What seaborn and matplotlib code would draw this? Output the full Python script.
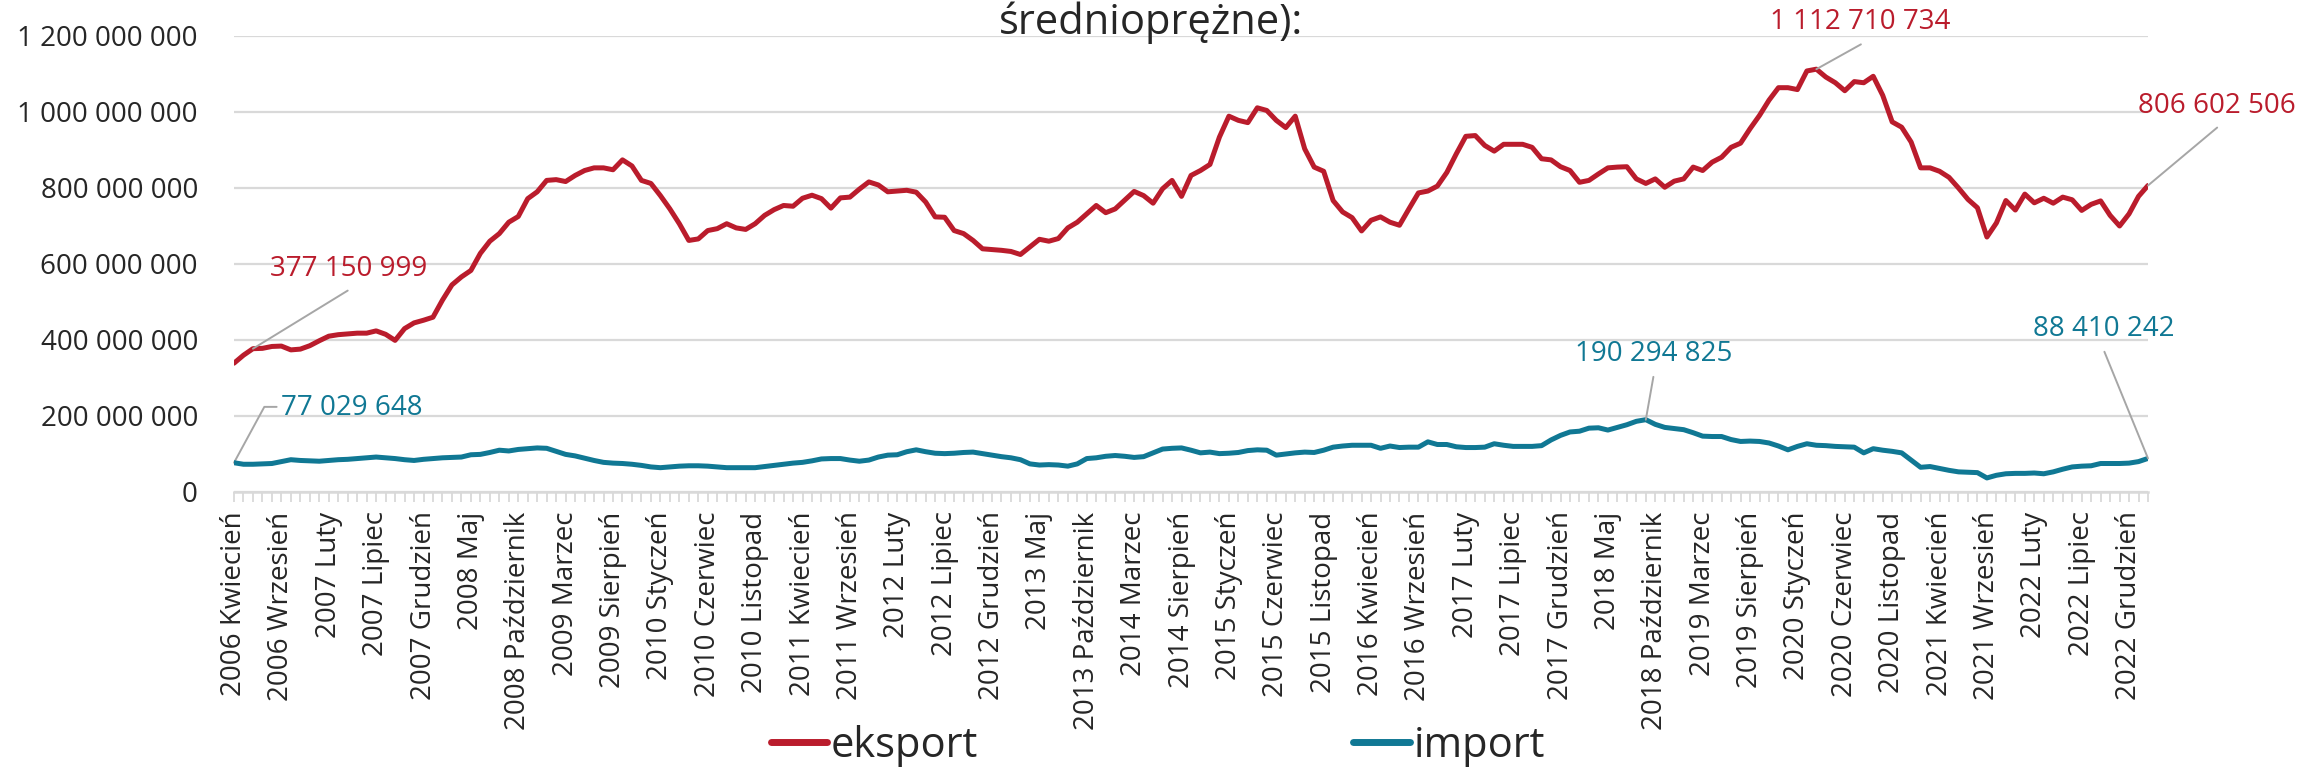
import matplotlib
matplotlib.use("Agg")
import matplotlib.pyplot as plt
import numpy as np
import pandas as pd
import seaborn as sns

# Monthly series, April 2006 .. February 2023 (values in millions)
START_YEAR, START_MONTH = 2006, 4
MONTHS_PL = ["Styczeń", "Luty", "Marzec", "Kwiecień", "Maj", "Czerwiec", "Lipiec",
             "Sierpień", "Wrzesień", "Październik", "Listopad", "Grudzień"]

eksport_mln = [
    339, 360, 377.150999, 378, 383, 384, 374, 376, 385, 398,
    410, 414, 416, 418, 418, 424, 415, 399, 430, 445,
    452, 460, 505, 545, 566, 583, 628, 660, 680, 710,
    725, 772, 790, 820, 822, 817, 833, 846, 853, 853,
    848, 874, 858, 820, 812, 780, 745, 706, 662, 666,
    688, 693, 706, 695, 691, 706, 728, 743, 754, 752,
    773, 781, 772, 747, 774, 776, 797, 816, 808, 790,
    792, 794, 789, 763, 724, 723, 688, 680, 662, 640,
    638, 636, 633, 625, 645, 665, 660, 667, 695, 710,
    732, 754, 735, 745, 768, 791, 780, 760, 798, 820,
    778, 833, 846, 862, 934, 989, 978, 972, 1011, 1004,
    978, 959, 989, 903, 855, 844, 767, 737, 722, 687,
    715, 724, 710, 702, 745, 787, 792, 805, 841, 890,
    936, 938, 912, 897, 915, 915, 915, 907, 877, 874,
    856, 846, 815, 820, 837, 853, 855, 856, 824, 812,
    824, 802, 818, 824, 855, 846, 868, 881, 907, 918,
    956, 991, 1031, 1064, 1064, 1059, 1108, 1112.710734, 1092, 1077,
    1056, 1080, 1077, 1094, 1044, 974, 960, 921, 853, 853,
    844, 828, 800, 770, 748, 671, 708, 767, 742, 784,
    761, 773, 760, 776, 769, 741, 757, 766, 728, 700,
    732, 778, 806.602506,
]

import_mln = [
    77.029648, 73, 73, 74, 75, 80, 85, 83, 82, 81,
    83, 85, 86, 88, 90, 92, 90, 88, 85, 83,
    86, 88, 90, 91, 92, 98, 99, 104, 110, 108,
    112, 114, 116, 115, 107, 99, 95, 89, 83, 78,
    76, 75, 73, 70, 66, 64, 66, 68, 69, 69,
    68, 66, 64, 64, 64, 64, 67, 70, 73, 76,
    78, 82, 87, 88, 88, 84, 81, 84, 92, 97,
    98, 106, 111, 106, 102, 101, 102, 104, 105, 101,
    97, 93, 90, 85, 74, 71, 72, 71, 68, 74,
    88, 90, 94, 96, 94, 91, 93, 103, 113, 115,
    116, 110, 103, 105, 101, 102, 104, 109, 111, 110,
    97, 100, 103, 105, 104, 110, 118, 121, 123, 123,
    123, 115, 121, 117, 118, 118, 132, 125, 125, 119,
    117, 117, 118, 127, 123, 120, 120, 120, 122, 137,
    149, 158, 160, 168, 169, 163, 170, 177, 186, 190.294825,
    178, 170, 167, 164, 156, 147, 146, 146, 138, 133,
    134, 133, 129, 121, 111, 120, 127, 123, 122, 120,
    119, 118, 103, 114, 110, 107, 103, 84, 65, 67,
    62, 57, 53, 52, 51, 37, 44, 48, 49, 49,
    50, 48, 53, 60, 66, 68, 69, 75, 75, 75,
    76, 80, 88.410242,
]

TITLE_TAIL = "średnioprężne):"
SERIES = ["eksport", "import"]
COLORS = {"eksport": "#BA1C2C", "import": "#107894"}

month_labels = []
y, m = START_YEAR, START_MONTH
for _ in range(len(eksport_mln)):
    month_labels.append(f"{y} {MONTHS_PL[m - 1]}")
    m += 1
    if m > 12:
        m, y = 1, y + 1

df = pd.DataFrame({
    "idx": np.arange(len(eksport_mln)),
    "eksport": np.array(eksport_mln) * 1e6,
    "import": np.array(import_mln) * 1e6,
})

sns.set_theme(style="white")
plt.rcParams["font.family"] = ["Open Sans", "DejaVu Sans"]

W, H = 2302, 768
fig = plt.figure(figsize=(W / 100, H / 100), dpi=100)
ax = fig.add_axes([234 / W, 1 - 492 / H, (2148 - 234) / W, (492 - 36) / H])

for name in SERIES:
    sns.lineplot(data=df, x="idx", y=name, ax=ax, color=COLORS[name],
                 linewidth=3.6, label=name, legend=False, zorder=3)

n = len(df)
ax.set_xlim(0, n - 1)
ax.set_ylim(0, 1.2e9)
ax.set_xticks(range(n))
ax.set_xticklabels([lab if i % 5 == 0 else "" for i, lab in enumerate(month_labels)],
                   rotation=90, fontsize=20)
ax.set_yticks(np.arange(0, 1.2e9 + 1, 2e8))
ax.set_yticklabels([f"{int(v):,}".replace(",", " ") for v in ax.get_yticks()], fontsize=20)
ax.tick_params(axis="x", length=7, width=1.3, color="#D9D9D9", pad=7, direction="out", bottom=True)
ax.tick_params(axis="y", length=0, pad=26)
ax.set_xlabel("")
ax.set_ylabel("")
ax.yaxis.grid(True, color="#D9D9D9", linewidth=1.6)
ax.xaxis.grid(False)
for s in ["top", "right", "left"]:
    ax.spines[s].set_visible(False)
ax.spines["bottom"].set_color("#D9D9D9")
ax.spines["bottom"].set_linewidth(1.8)

# data labels with leader lines
LEADER = "#A6A6A6"
labels = [
    # (series, index, text position, leader end)
    ("eksport", 2, (12.1, 588e6), (12.0, 530e6)),
    ("eksport", 167, (171.6, 1236e6), (171.7, 1178e6)),
    ("eksport", n - 1, (209.3, 1017e6), (209.3, 959e6)),
    ("import", 149, (149.8, 364e6), (149.8, 303e6)),
    ("import", n - 1, (197.3, 430e6), (197.4, 369e6)),
]
for name, i, txt_pos, end in labels:
    val = df[name].iloc[i]
    ax.annotate("", xy=(i, val), xytext=end,
                arrowprops=dict(arrowstyle="-", color=LEADER, lw=1.4, shrinkA=0, shrinkB=0),
                annotation_clip=False)
    ax.text(*txt_pos, f"{int(round(val)):,}".replace(",", " "), color=COLORS[name],
            fontsize=20, ha="center", va="center", clip_on=False)

# first import point: elbow leader
v0 = df["import"].iloc[0]
ax.plot([0, 3.2, 4.5], [v0, 224e6, 224e6], color=LEADER, lw=1.4, clip_on=False, zorder=2)
ax.text(5.0, 222e6, f"{int(round(v0)):,}".replace(",", " "), color=COLORS["import"],
        fontsize=20, ha="left", va="center")

fig.text(0.5, 1 - 2 / H, TITLE_TAIL, ha="center", va="top", fontsize=30)

handles, labs = ax.get_legend_handles_labels()
leg = fig.legend(handles, labs, loc="center", bbox_to_anchor=(1158 / W, 1 - 746 / H),
                 ncol=2, frameon=False, fontsize=30, handlelength=1.35,
                 handletextpad=0.1, columnspacing=9)
for h in leg.legend_handles:
    h.set_linewidth(5)

fig.savefig("out.png", dpi=100)
